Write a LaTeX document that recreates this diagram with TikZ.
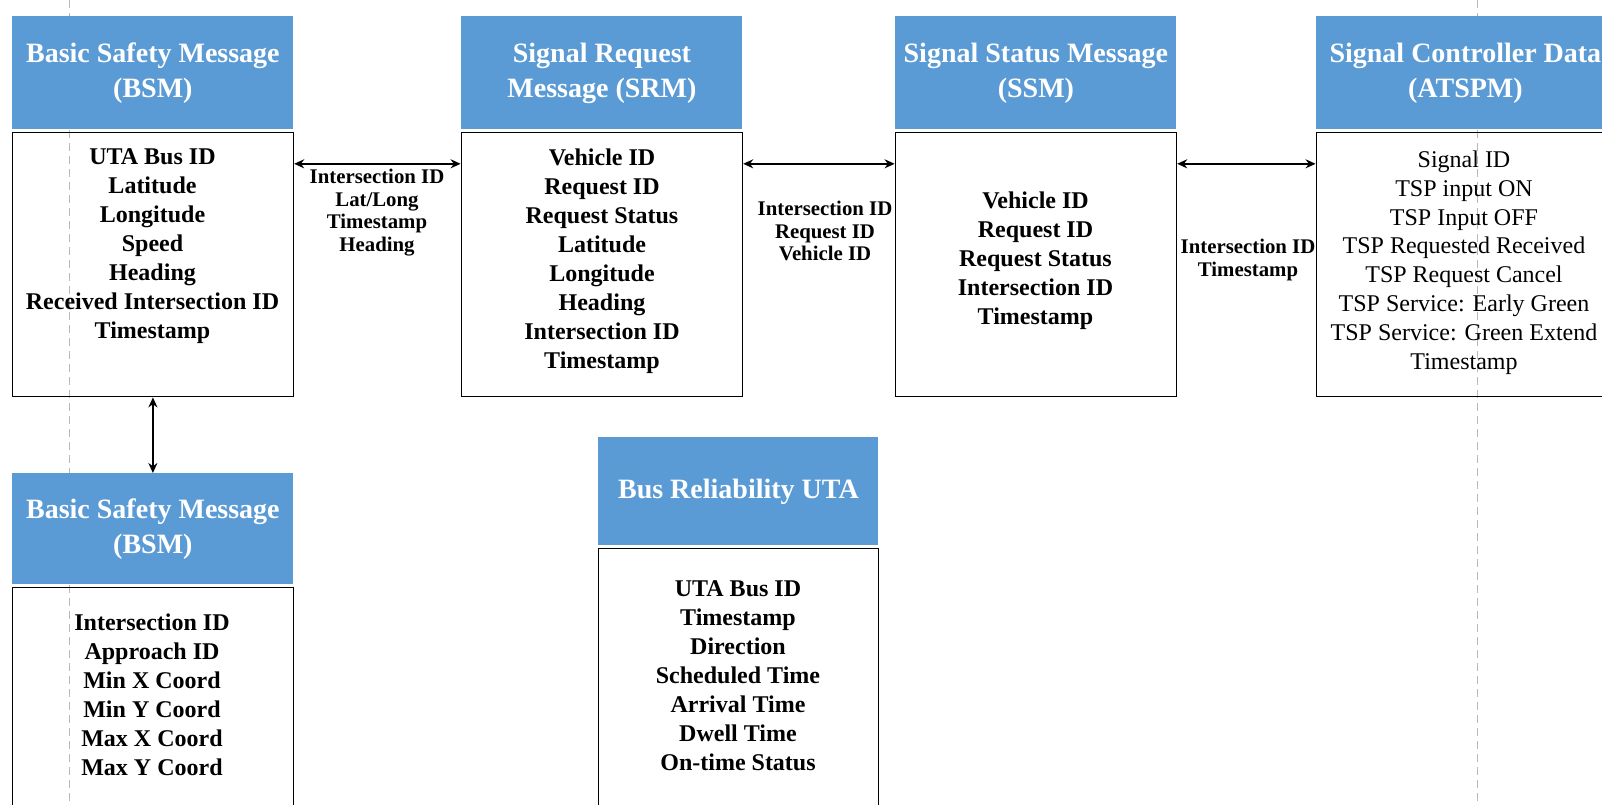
\documentclass[tikz,border=0pt]{standalone}
\usepackage{fontspec}
\setmainfont{Liberation Serif}
\usetikzlibrary{arrows.meta, positioning}

\definecolor{headblue}{RGB}{91,155,213}

\begin{document}
\begin{tikzpicture}[x=0.5pt,y=-0.5pt,>={Stealth[length=5pt,width=4.5pt]},
        msg head/.style={fill=headblue,text=white,font=\bfseries\fontsize{14}{17.5}\selectfont,align=center,
                         minimum width=140.5pt,minimum height=56.5pt,inner sep=0pt,anchor=north west},
        msg body/.style={draw,line width=0.8pt,minimum width=140.5pt,minimum height=132pt,inner sep=0pt},
        field list/.style={font=\bfseries\fontsize{12}{14.5}\selectfont,align=center,inner sep=0pt},
        link/.style={<->,line width=0.8pt},
        link label/.style={font=\bfseries\fontsize{10.4}{11.4}\selectfont,align=center,inner sep=0pt},
        guide/.style={gray!55,line width=0.5pt,dash pattern=on 4pt off 2.5pt}]

        \useasboundingbox (0,0) rectangle (1602,804);

        % dashed guides
        \draw[guide] (69,0) -- (69,804);
        \draw[guide] (1477,0) -- (1477,804);

        % top row
        \node[msg head] (bsm)   at (12,16)   {Basic Safety Message\\(BSM)};
        \node[msg head] (srm)   at (461,16)  {Signal Request\\Message (SRM)};
        \node[msg head] (ssm)   at (895,16)  {Signal Status Message\\(SSM)};
        \node[msg head, minimum width=149pt] (atspm) at (1316,16) {Signal Controller Data\\(ATSPM)};

        \node[msg body, below=1pt of bsm]   (bsm body)   {};
        \node[msg body, below=1pt of srm]   (srm body)   {};
        \node[msg body, below=1pt of ssm]   (ssm body)   {};
        \node[msg body, below=1pt of atspm, minimum width=149pt] (atspm body) {};

        % bottom row
        \node[msg head, minimum height=55.5pt] (bsm2)   at (12,473)  {Basic Safety Message\\(BSM)};
        \node[msg head, minimum height=54pt, minimum width=140pt] (busrel) at (598,437) {Bus Reliability UTA};

        \node[msg body, below=1pt of bsm2, minimum height=122pt]   (bsm2 body)   {};
        \node[msg body, below=1pt of busrel, minimum height=142pt, minimum width=140pt] (busrel body) {};

        % field lists
        \node[field list] (bsm fields) at (152.5,246.5)
            {UTA Bus ID\\Latitude\\Longitude\\Speed\\Heading\\Received Intersection ID\\Timestamp};
        \node[field list] (srm fields) at (602,261)
            {Vehicle ID\\Request ID\\Request Status\\Latitude\\Longitude\\Heading\\Intersection ID\\Timestamp};
        \node[field list] (ssm fields) at (1035.5,261)
            {Vehicle ID\\Request ID\\Request Status\\Intersection ID\\Timestamp};
        \node[field list, font=\fontsize{12}{14.4}\selectfont] (atspm fields) at (1464,262.5)
            {Signal ID\\TSP input ON\\TSP Input OFF\\TSP Requested Received\\TSP Request Cancel\\TSP Service: Early Green\\TSP Service: Green Extend\\Timestamp};
        \node[field list] (bsm2 fields) at (152,695)
            {Intersection ID\\Approach ID\\Min X Coord\\Min Y Coord\\Max X Coord\\Max Y Coord};
        \node[field list] (busrel fields) at (738,675.5)
            {UTA Bus ID\\Timestamp\\Direction\\Scheduled Time\\Arrival Time\\Dwell Time\\On-time Status};

        % links
        \draw[link] ([yshift=-16pt]bsm body.north east) -- ([yshift=-16pt]srm body.north west);
        \draw[link] ([yshift=-16pt]srm body.north east) -- ([yshift=-16pt]ssm body.north west);
        \draw[link] ([yshift=-16pt]ssm body.north east) -- ([yshift=-16pt]atspm body.north west);
        \draw[link] (bsm body.south) -- (bsm2.north);

        \node[link label] (bsm srm)   at (377,212.5) {Intersection ID\\Lat/Long\\Timestamp\\Heading};
        \node[link label] (srm ssm)   at (825,231)   {Intersection ID\\Request ID\\Vehicle ID};
        \node[link label] (ssm atspm) at (1248,260)  {Intersection ID\\Timestamp};

\end{tikzpicture}
\end{document}
